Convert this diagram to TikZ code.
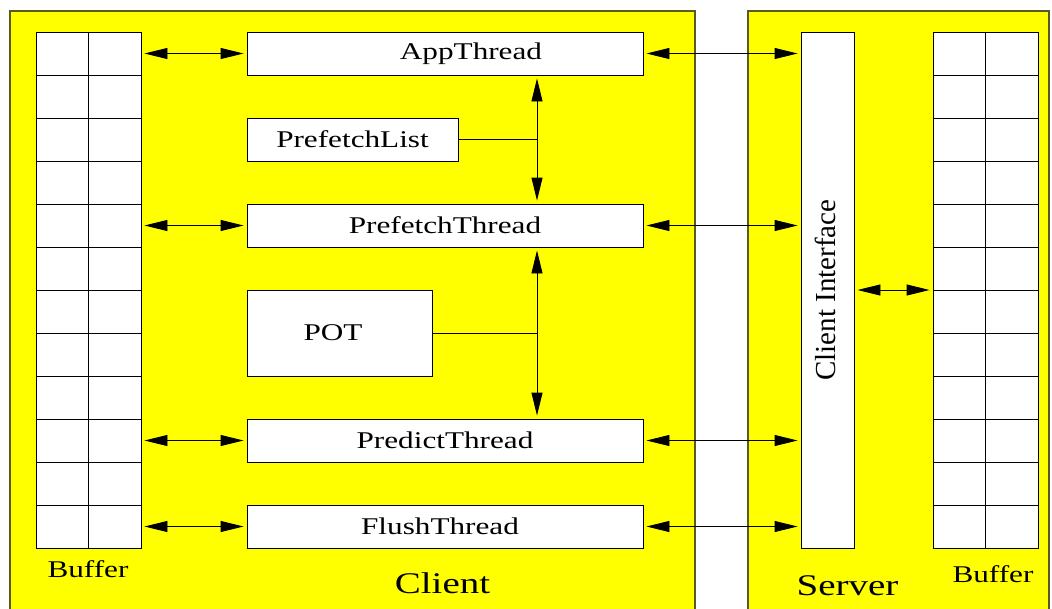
\documentclass[tikz,border=0pt]{standalone}
\usepackage{fontspec}
\setmainfont{Liberation Serif}
\newfontfamily\widefont{Liberation Serif}[FakeStretch=1.3]
\usetikzlibrary{arrows.meta}
\definecolor{panelyellow}{RGB}{255,255,0}

\begin{document}
\begin{tikzpicture}[x=1pt,y=-1pt,
  panel/.style={fill=panelyellow, draw={rgb,255:red,90;green,90;blue,30}, line width=1.2pt},
  box/.style={draw, fill=white, line width=0.9pt, inner sep=0pt,
    font=\widefont\fontsize{24}{28}\selectfont},
  gridbox/.style={draw, fill=white, line width=0.9pt, inner sep=0pt,
    minimum width=105, minimum height=516},
  gridline/.style={line width=0.8pt},
  arr/.style={{Triangle[length=23pt,width=11pt]}-{Triangle[length=23pt,width=11pt]},
    line width=0.9pt, shorten <=3pt, shorten >=3pt},
  link/.style={line width=0.9pt},
  small/.style={font=\widefont\fontsize{24}{28}\selectfont, anchor=base, inner sep=0pt},
  big/.style={font=\widefont\fontsize{30}{34}\selectfont, anchor=base, inner sep=0pt}]

\useasboundingbox (0,0) rectangle (1052,608);
\clip (0,0) rectangle (1052,608);

% client and server panels
\draw[panel] (10,11) rectangle (695,630);
\draw[panel] (748,11) rectangle (1049,630);

% buffers
\node[gridbox] (bufL) at (88.5,290) {};
\node[gridbox] (bufR) at (985.5,290) {};
\draw[gridline] (bufL.north) -- (bufL.south);
\draw[gridline] (bufR.north) -- (bufR.south);
\foreach \k in {1,...,11}{
  \draw[gridline] (36,32+43*\k) -- (141,32+43*\k);
  \draw[gridline] (933,32+43*\k) -- (1038,32+43*\k);
}

% client threads
\node[box, minimum width=396, minimum height=43] (app) at (445,53.5) {\hspace*{52pt}AppThread};
\node[box, minimum width=211, minimum height=43] (plist) at (352.5,139.5) {PrefetchList};
\node[box, minimum width=396, minimum height=43] (pft) at (445,225.5) {PrefetchThread};
\node[box, minimum width=185, minimum height=86] (pot) at (339.5,333) {\hspace*{-13pt}POT};
\node[box, minimum width=396, minimum height=43] (pred) at (445,440.5) {PredictThread};
\node[box, minimum width=396, minimum height=43] (flush) at (445,526.5) {\hspace*{-10pt}FlushThread};

% server interface
\node[box, minimum width=53, minimum height=516] (ci) at (827.5,290) {};
\node[rotate=90, inner sep=0pt, font=\fontsize{29}{34}\selectfont] (citext) at (825,290) {Client Interface};

% vertical spine between threads
\coordinate (spine) at (537,0);
\draw[arr] (app.south -| spine) -- (pft.north -| spine);
\draw[arr] (pft.south -| spine) -- (pred.north -| spine);
\draw[link] (plist.east) -- (plist.east -| spine);
\draw[link] (pot.east) -- (pot.east -| spine);

% buffer <-> threads
\foreach \t in {app,pft,pred,flush}{
  \draw[arr] (\t.west -| bufL.east) -- (\t.west);
  \draw[arr] (\t.east) -- (\t.east -| ci.west);
}
\draw[arr] (ci.east) -- (ci.east -| bufR.west);

% captions
\node[small] (capBufL) at (88,577) {Buffer};
\node[big] (capClient) at (442.5,593) {Client};
\node[big] (capServer) at (847.5,595) {Server};
\node[small] (capBufR) at (993,582) {Buffer};
\end{tikzpicture}
\end{document}
